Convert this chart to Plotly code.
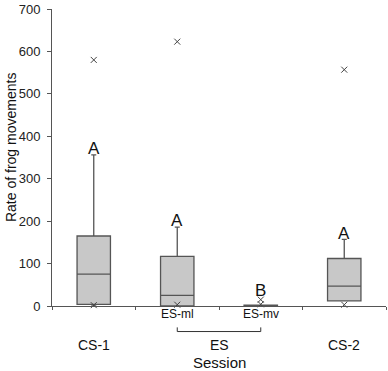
import plotly.graph_objects as go

categories = ["CS-1", "ES-ml", "ES-mv", "CS-2"]
q1 = [4, 0, 0, 12]
median = [75, 25, 0, 47]
q3 = [165, 117, 2, 112]
lower = [0, 0, 0, 12]
upper = [356, 186, 2, 157]
outliers = [580, 623, None, 557]
low_marks = [[2], [3], [4, 15], [3]]
letters = ["A", "A", "B", "A"]
letter_y = [372, 202, 37, 172]

xs = list(range(len(categories)))
line_col = "#555555"
font = "Liberation Sans, Arial, sans-serif"

fig = go.Figure()
fig.add_trace(go.Box(
    x=xs, q1=q1, median=median, q3=q3, lowerfence=lower, upperfence=upper,
    width=0.4, whiskerwidth=0.15, boxpoints=False,
    fillcolor="#c8c8c8", line=dict(color=line_col, width=1.3),
    showlegend=False, hoverinfo="skip"))

mx, my = [], []
for i, v in enumerate(outliers):
    if v is not None:
        mx.append(i); my.append(v)
for i, vals in enumerate(low_marks):
    for v in vals:
        mx.append(i); my.append(v)
fig.add_trace(go.Scatter(
    x=mx, y=my, mode="markers",
    marker=dict(symbol="x-thin", size=6, line=dict(color="#444444", width=1)),
    showlegend=False, hoverinfo="skip", cliponaxis=False))

annotations = []
for i, (t, yv) in enumerate(zip(letters, letter_y)):
    annotations.append(dict(x=i, y=yv, xref="x", yref="y", text=t, showarrow=False,
                            font=dict(family=font, size=17, color="#111111")))
label_y = [-0.13, -0.027, -0.027, -0.13]
label_size = [14, 12, 12, 14]
for i, c in enumerate(categories):
    annotations.append(dict(x=i, y=label_y[i], xref="x", yref="paper", text=c, showarrow=False,
                            yanchor="middle", font=dict(family=font, size=label_size[i], color="#111111")))
annotations.append(dict(x=1.5, y=-0.13, xref="x", yref="paper", text="ES", showarrow=False,
                        yanchor="middle", font=dict(family=font, size=14, color="#111111")))
annotations.append(dict(x=1.5, y=-0.19, xref="x", yref="paper", text="Session", showarrow=False,
                        yanchor="middle", font=dict(family=font, size=15, color="#111111")))
annotations.append(dict(x=-0.123, y=0.535, xref="paper", yref="paper", text="Rate of frog movements",
                        showarrow=False, textangle=-90, xanchor="center", yanchor="middle",
                        font=dict(family=font, size=14, color="#111111")))

shapes = [
    dict(type="line", xref="x", yref="paper", x0=1, x1=2, y0=-0.086, y1=-0.086,
         line=dict(color="#333333", width=1)),
    dict(type="line", xref="x", yref="paper", x0=1, x1=1, y0=-0.086, y1=-0.072,
         line=dict(color="#333333", width=1)),
    dict(type="line", xref="x", yref="paper", x0=2, x1=2, y0=-0.086, y1=-0.072,
         line=dict(color="#333333", width=1)),
]

fig.update_layout(
    width=388, height=371,
    margin=dict(l=52, r=2, t=5, b=65),
    paper_bgcolor="white", plot_bgcolor="white",
    font=dict(family=font, color="#222222"),
    annotations=annotations, shapes=shapes,
    xaxis=dict(range=[-0.5, 3.5], tickvals=[-0.5, 0.5, 1.5, 2.5, 3.5], ticktext=["", "", "", "", ""],
               ticks="outside", ticklen=3, tickcolor=line_col, showline=True, linecolor=line_col,
               linewidth=1, showgrid=False, zeroline=False),
    yaxis=dict(range=[0, 700.01], tickvals=[0, 100, 200, 300, 400, 500, 600, 700],
               ticks="outside", ticklen=4, tickcolor=line_col, showline=True, linecolor=line_col,
               linewidth=1, showgrid=False, zeroline=False, ticklabeloverflow="allow",
               ticklabelstandoff=4,
               tickfont=dict(size=13, color="#222222")),
)

fig.write_html("out.html", config={"displayModeBar": False},
               post_script="document.body.style.margin='0';document.body.style.overflow='hidden';")
